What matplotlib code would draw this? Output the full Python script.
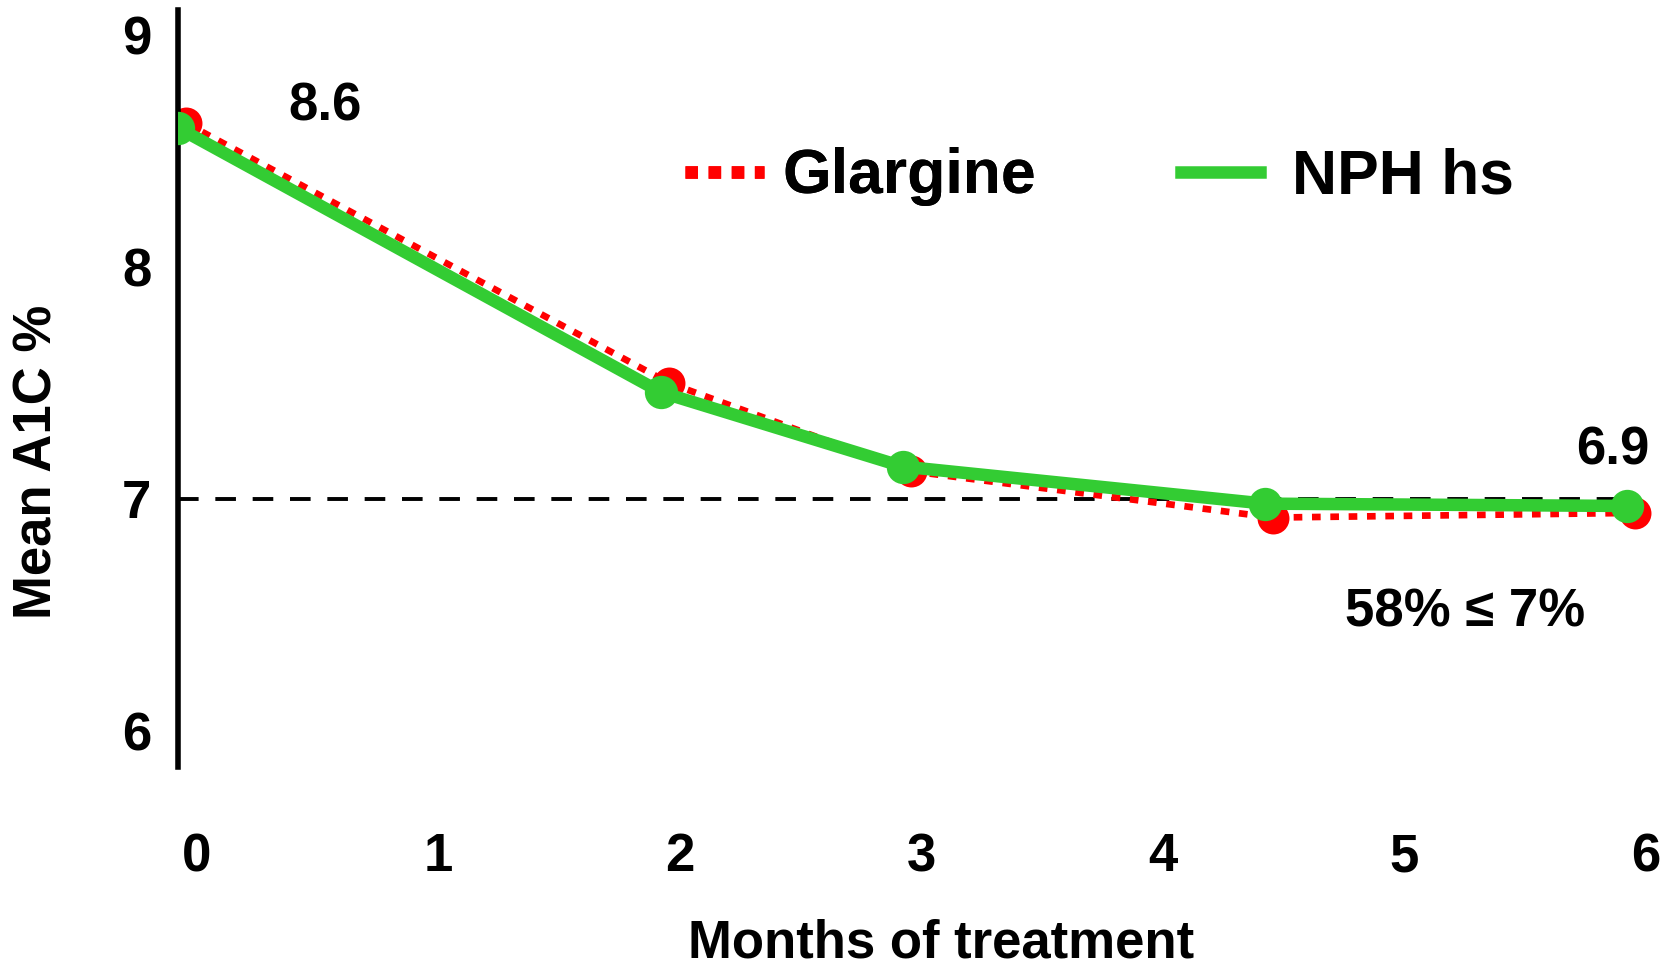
import matplotlib
matplotlib.use("Agg")
import matplotlib.pyplot as plt
from matplotlib.lines import Line2D
from matplotlib.transforms import ScaledTranslation

# A1C over 6 months of treatment
months = [0, 2, 3, 4.5, 6]
glargine = [8.62, 7.50, 7.12, 6.92, 6.94]
nph_hs = [8.60, 7.46, 7.14, 6.98, 6.97]
xticks = [0, 1, 2, 3, 4, 5, 6]
yticks = [6, 7, 8, 9]
target = 7
pct_at_target = 58

RED = '#ff0000'
GREEN = '#33cc33'

plt.rcParams['font.family'] = ['Liberation Sans', 'DejaVu Sans']
plt.rcParams['font.weight'] = 'bold'

fig = plt.figure(figsize=(16.76, 9.67), dpi=100)
ax = fig.add_axes([178/1676, 1 - 767/967, 1498/1676, 757/967])
ax.set_xlim(0, 1498/241.5)
ax.set_ylim(9 - (767-35)/232, 9 + 25/232)

for s in ['top', 'right', 'bottom']:
    ax.spines[s].set_visible(False)
ax.spines['left'].set_linewidth(4)
ax.spines['left'].set_zorder(2.5)

# target line
ax.plot([0, 6.05], [target, target], color='black', lw=2.8,
        linestyle=(0, (5.3, 4.3)), zorder=1)

# glargine drawn a few pixels right so it peeks out from under NPH
shift = ScaledTranslation(0.08, 0, fig.dpi_scale_trans)
red_line, = ax.plot(months, glargine, color=RED, lw=4.8,
                    linestyle=(0, (1.3, 1.45)), marker='o', markersize=23,
                    markeredgewidth=0, zorder=2)
red_line.set_transform(ax.transData + shift)
ax.plot(months, nph_hs, color=GREEN, lw=9, solid_capstyle='butt',
        marker='o', markersize=24, markeredgewidth=0, zorder=3)

ax.set_xticks(xticks)
ax.set_xticklabels([str(t) for t in xticks])
ax.set_yticks(yticks)
ax.set_yticklabels([str(t) for t in yticks])
ax.tick_params(axis='both', length=0, labelsize=38)
ax.tick_params(axis='y', pad=19)
ax.tick_params(axis='x', pad=47)
offset = ScaledTranslation(0.19, 0, fig.dpi_scale_trans)
for lab in ax.get_xticklabels():
    lab.set_transform(lab.get_transform() + offset)

fig.text(941/1676, 1 - 943/967, 'Months of treatment', fontsize=38,
         ha='center', va='center')
fig.text(37/1676, 1 - 462/967, 'Mean A1C %', fontsize=38,
         ha='center', va='center', rotation=90)

ax.text(0.61, 8.69, f'{glargine[0]:.1f}', fontsize=38, ha='center', va='center')
ax.text(5.94, 7.21, f'{glargine[-1]:.1f}', fontsize=38, ha='center', va='center')
ax.text(5.33, 6.51, f'{pct_at_target}% \u2264 {target}%', fontsize=38,
        ha='center', va='center')

# legend entries placed separately
leg_kw = dict(loc='center left', frameon=False, fontsize=45, handlelength=1.27,
              borderpad=0, borderaxespad=0)
leg1 = fig.legend([Line2D([], [], color=RED, lw=9, linestyle=(0, (1.0, 0.85)))],
                  ['Glargine'], bbox_to_anchor=(685/1676, 1 - 177/967),
                  handletextpad=0.29, **leg_kw)
fig.legend([Line2D([], [], color=GREEN, lw=9)], ['NPH hs'],
           bbox_to_anchor=(1181/1676, 1 - 177/967), handletextpad=0.5, **leg_kw)
fig.add_artist(leg1)

fig.savefig('out.png', dpi=100)
